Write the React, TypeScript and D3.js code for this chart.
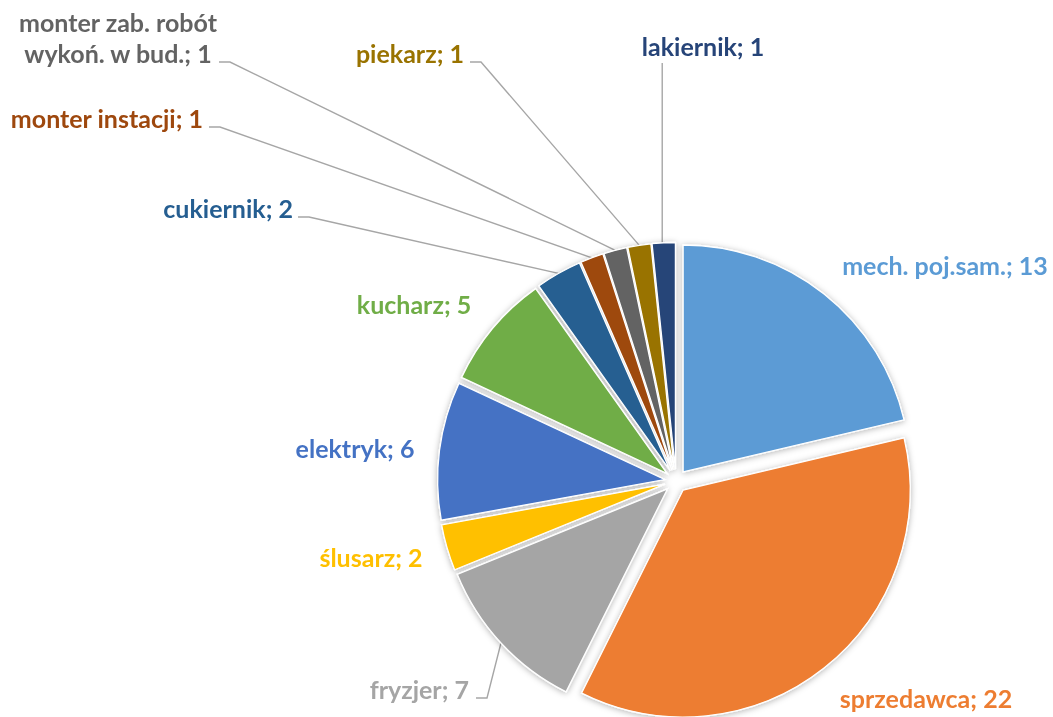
import React from "react";
import * as d3 from "d3";

// data
const categories = [
  "mech. poj.sam.",
  "sprzedawca",
  "fryzjer",
  "ślusarz",
  "elektryk",
  "kucharz",
  "cukiernik",
  "monter instacji",
  "monter zab. robót wykoń. w bud.",
  "piekarz",
  "lakiernik",
];
const values = [13, 22, 7, 2, 6, 5, 2, 1, 1, 1, 1];
const colors = [
  "#5B9BD5",
  "#ED7D31",
  "#A5A5A5",
  "#FFC000",
  "#4472C4",
  "#70AD47",
  "#255E91",
  "#9E480E",
  "#636363",
  "#997300",
  "#264478",
];

// label layout: text lines, x, baseline y, anchor, leader start
const labelLines = [
  ["mech. poj.sam.; 13"],
  ["sprzedawca; 22"],
  ["fryzjer; 7"],
  ["ślusarz; 2"],
  ["elektryk; 6"],
  ["kucharz; 5"],
  ["cukiernik; 2"],
  ["monter instacji; 1"],
  ["monter zab. robót", "wykoń. w bud.; 1"],
  ["piekarz; 1"],
  ["lakiernik; 1"],
];
const labelX = [945, 926, 469, 371, 355, 414, 293, 203, 118, 464, 703];
const labelY = [275, 708, 699, 567, 458, 314, 218, 128, 63, 63, 56];
const labelAnchor = ["middle", "middle", "end", "middle", "middle", "middle", "end", "end", "middle", "end", "middle"];
const leader = ["", "", "side", "", "", "", "side", "side", "side", "side", "down"];
const leaderX = [0, 0, 476, 0, 0, 0, 298, 209, 219, 470, 0];

const W = 1053;
const H = 717;
const cx = 676;
const cy = 481;
const R = 227;
const explode = 11.5;
const fontSize = 25;
const lineGap = 31;

export default function App() {
  const pie = d3.pie<number>().sort(null).value((d) => d);
  const arcs = pie(values);
  const arc = d3.arc<d3.PieArcDatum<number>>().innerRadius(0).outerRadius(R);

  const slices = arcs.map((a, i) => {
    const mid = (a.startAngle + a.endAngle) / 2;
    const ox = explode * Math.sin(mid);
    const oy = -explode * Math.cos(mid);
    const edge: [number, number] = [cx + ox + R * Math.sin(mid), cy + oy - R * Math.cos(mid)];
    return { a, i, ox, oy, edge };
  });

  const font = "Lato, 'Open Sans', sans-serif";

  return (
    <svg
      width={W}
      height={H}
      style={{ position: "fixed", left: 0, top: 0, background: "#fff" }}
    >
      <defs>
        <filter id="shadow" x="-20%" y="-20%" width="140%" height="140%">
          <feDropShadow dx="0" dy="1" stdDeviation="3" floodColor="#000" floodOpacity="0.3" />
        </filter>
      </defs>

      {/* leader lines */}
      <g stroke="#A6A6A6" strokeWidth={1.4} fill="none">
        {slices.map(({ i, edge }) => {
          if (leader[i] === "side") {
            const x0 = leaderX[i];
            const y0 = labelY[i] - 1;
            return <path key={i} d={`M${x0},${y0}H${x0 + 11}L${edge[0]},${edge[1]}`} />;
          }
          if (leader[i] === "down") {
            return <path key={i} d={`M${edge[0] - 1.5},${labelY[i] + 7}L${edge[0] - 1.5},${edge[1]}`} />;
          }
          return null;
        })}
      </g>

      <g filter="url(#shadow)">
        {slices.map(({ a, i, ox, oy }) => (
          <path
            key={i}
            d={arc(a) || ""}
            transform={`translate(${cx + ox},${cy + oy})`}
            fill={colors[i]}
            stroke="#fff"
            strokeWidth={1.3}
          />
        ))}
      </g>

      <g fontFamily={font} fontWeight="bold" fontSize={fontSize}>
        {labelLines.map((lines, i) => (
          <text
            key={i}
            x={labelX[i]}
            y={labelY[i] - (lines.length - 1) * lineGap}
            textAnchor={labelAnchor[i]}
            fill={colors[i]}
          >
            {lines.map((t, j) => (
              <tspan key={j} x={labelX[i]} dy={j === 0 ? 0 : lineGap}>
                {t}
              </tspan>
            ))}
          </text>
        ))}
      </g>
    </svg>
  );
}
